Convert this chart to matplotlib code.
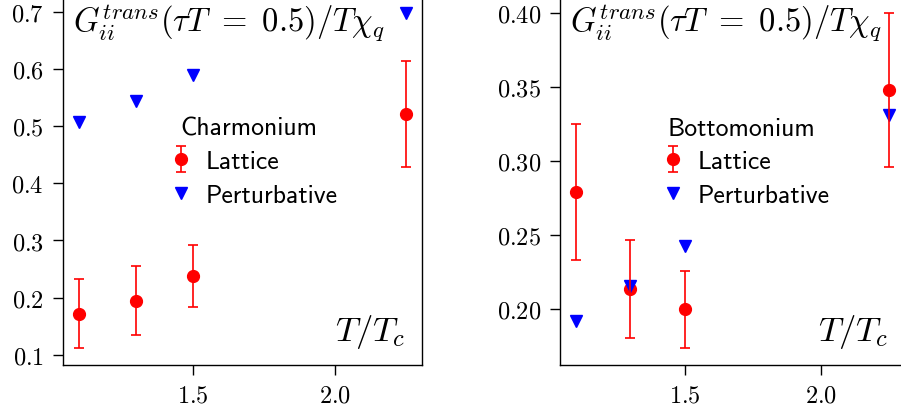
import matplotlib
matplotlib.use("Agg")
import matplotlib.pyplot as plt

# Données
temps = [1.1, 1.3, 1.5, 2.25]

charm_latt = [0.172, 0.195, 0.238, 0.521]
charm_err = [0.060, 0.061, 0.054, 0.093]
charm_pert = [0.507, 0.544, 0.590, 0.698]

bottom_latt = [0.279, 0.214, 0.200, 0.348]
bottom_err = [0.046, 0.033, 0.026, 0.052]
bottom_pert = [0.192, 0.216, 0.243, 0.331]

titre = r"$G_{ii}^{trans}(\tau T\ =\ 0.5)/T\chi_q$"

plt.rcParams["font.family"] = "serif"
plt.rcParams["font.serif"] = ["cmr10"]
plt.rcParams["mathtext.fontset"] = "cm"
plt.rcParams["axes.formatter.use_mathtext"] = True
plt.rcParams["axes.unicode_minus"] = False

fig = plt.figure(figsize=(9.01, 4.14), dpi=100)

# Positions des axes (la figure d'origine est rognée en haut et à droite)
ax1 = fig.add_axes([63 / 901, 48.3 / 414, 359 / 901, 368.5 / 414])
ax2 = fig.add_axes([560.3 / 901, 48.3 / 414, 344.4 / 901, 368.5 / 414])


def panneau(ax, latt, err, pert, nom, x_leg):
    eb = ax.errorbar(temps, latt, yerr=err, fmt="o", color="red", ms=8.5,
                     elinewidth=1.2, capsize=3.5, capthick=1.2, label="Lattice")
    eb[0].set_zorder(1.5)
    for c in eb[1]:
        c.set_zorder(3)
    for c in eb[2]:
        c.set_zorder(3)
    pl, = ax.plot(temps, pert, "v", color="blue", ms=8.5, linestyle="none",
                  label="Perturbative", zorder=2.5)

    ax.text(0.028, 0.985, titre, transform=ax.transAxes, fontsize=23.5,
            ha="left", va="top")
    ax.text(0.953, 0.04, r"$T/T_c$", transform=ax.transAxes, fontsize=25,
            ha="right", va="bottom")

    ax.legend([eb, pl], ["Lattice", "Perturbative"],
              loc="upper left", bbox_to_anchor=(x_leg, 0.735), frameon=False,
              title=nom, prop={"family": "cmss10", "size": 18.5},
              title_fontproperties={"family": "cmss10", "size": 18.5},
              handlelength=1.5, handletextpad=0.2, labelspacing=0.4)

    ax.set_xticks([1.5, 2.0])
    ax.tick_params(direction="out", length=7, width=1, pad=7, labelsize=17.5)
    for s in ax.spines.values():
        s.set_linewidth(1)


panneau(ax1, charm_latt, charm_err, charm_pert, "Charmonium", 0.21)
panneau(ax2, bottom_latt, bottom_err, bottom_pert, "Bottomonium", 0.205)

ax1.set_yticks([0.1, 0.2, 0.3, 0.4, 0.5, 0.6, 0.7])
ax2.set_yticks([0.20, 0.25, 0.30, 0.35, 0.40])

fig.savefig("out.png", dpi=100)
